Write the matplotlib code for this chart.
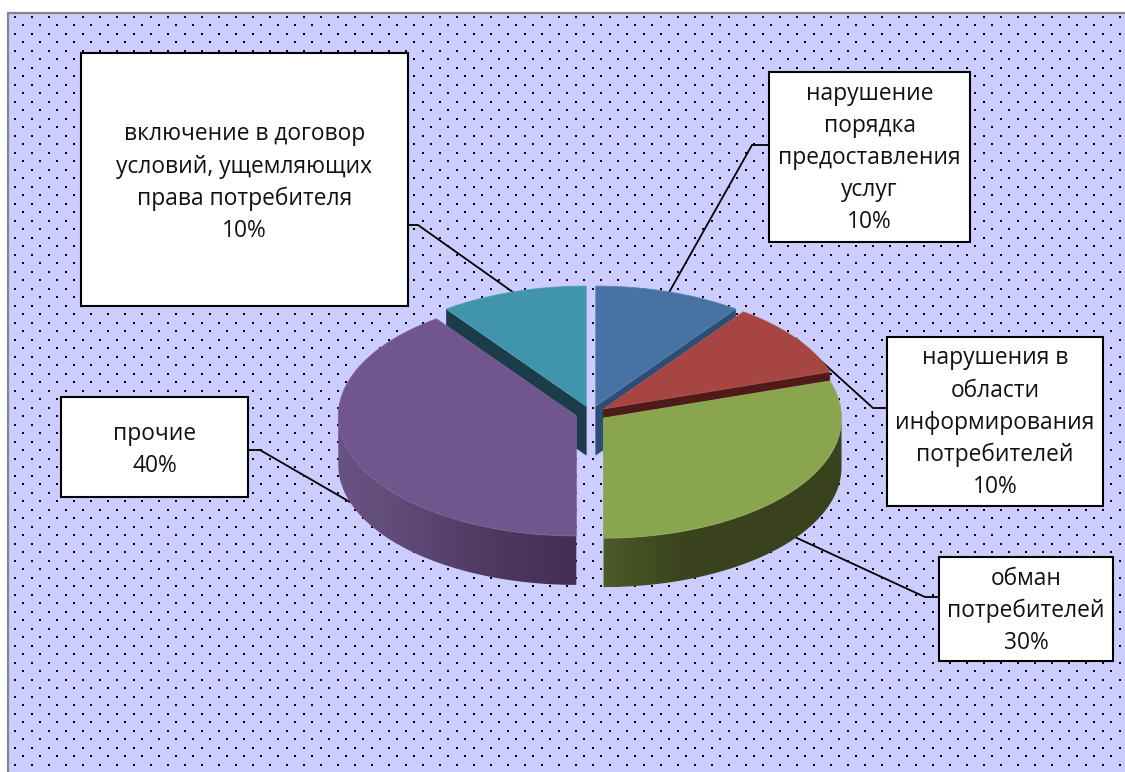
import numpy as np
import matplotlib
matplotlib.use("Agg")
import matplotlib.pyplot as plt
from matplotlib.colors import LinearSegmentedColormap
from matplotlib.patches import Polygon, Rectangle

plt.rcParams['font.family'] = ['Open Sans', 'Noto Sans', 'DejaVu Sans']

# ---- data (clockwise from 12 o'clock) ----
categories = ["нарушение\nпорядка\nпредоставления\nуслуг",
              "нарушения в\nобласти\nинформирования\nпотребителей",
              "обман\nпотребителей",
              "прочие",
              "включение в договор\nусловий, ущемляющих\nправа потребителя"]
values = [10, 10, 30, 40, 10]

# ---- styles ----
top_colors = ["#4672a4", "#a64542", "#89a54e", "#71568e", "#4095ad"]
cut_colors = ["#2c4d75", "#4e1b18", "#3a431e", "#432f55", "#1b3d4a"]
edge_colors = ["#5a83b0", "#ae5653", "#95ae60", "#7d649a", "#55a3b8"]
wall_gradients = {2: ["#4d5b29", "#3a431e", "#3a431e", "#39421d"],
                  3: ["#6a5382", "#5d4875", "#4d3860", "#432f55"]}
wall_ranges = {2: (603, 842), 3: (338, 578)}
cut_edges = {0: "end", 1: "end", 4: "start"}
draw_order = [4, 0, 1, 3, 2]

# ---- layout (pixels) ----
W, H = 1125, 772
CX, CY, RX, RY, DEPTH, EXPLODE = 591, 413.5, 238, 120, 49, 0.065
boxes = [(769, 72, 970, 242), (887, 337, 1103, 506), (939, 557, 1113, 661),
         (61, 397, 248, 497), (81, 53, 408, 306)]
text_y = [93.5, 358.5, 579, 434, 134.5]
LINE_STEP = 32.2
elbows = [((769, 145), (752, 145)), ((887, 408), (873, 408)), ((939, 597), (925, 597)),
          ((248, 450), (260, 450)), ((408, 225), (418, 225))]

fig = plt.figure(figsize=(W / 100, H / 100), dpi=100, facecolor="white")
ax = fig.add_axes([0, 0, 1, 1])
ax.axis("off")

# background and dot pattern
ax.add_patch(Rectangle((7.5, 12.5), W, H, fc="#ccccff", ec="#868686", lw=1.6, zorder=0))
for r in range(90):
    xs = np.arange(14.7 + (r % 2) * 8.5, W, 17)
    ax.scatter(xs, np.full_like(xs, 16.7 + 8.5 * r), s=3.6, c="black", marker="s", lw=0, zorder=1)

# slice angles from the values
shares = np.array(values) / sum(values) * 360
starts = 90 - np.concatenate([[0], np.cumsum(shares)[:-1]])
ends = starts - shares
mids = (starts + ends) / 2


def rim(angle, apex):
    t = np.radians(angle)
    return np.column_stack([apex[0] + RX * np.cos(t), apex[1] - RY * np.sin(t)])


apexes = []
for m in mids:
    t = np.radians(m)
    apexes.append((CX + EXPLODE * RX * np.cos(t), CY - EXPLODE * RY * np.sin(t)))

for i in draw_order:
    apex = apexes[i]
    arc = rim(np.linspace(starts[i], ends[i], 200), apex)
    # outer wall, lower half only
    if i in wall_gradients:
        low = np.linspace(min(starts[i], 0), max(ends[i], -180), 200)
        upper = rim(low, apex)
        lower = upper + [0, DEPTH]
        wall = Polygon(np.vstack([upper, lower[::-1]]), closed=True, fc="none", ec="none", zorder=5)
        ax.add_patch(wall)
        cmap = LinearSegmentedColormap.from_list("w", wall_gradients[i])
        x0, x1 = wall_ranges[i]
        im = ax.imshow(np.linspace(0, 1, 256).reshape(1, -1), cmap=cmap, aspect="auto",
                       extent=(x0, x1, 600, 380), zorder=5, interpolation="bilinear")
        im.set_clip_path(wall)
    # cut wall along the slice's visible straight edge
    if i in cut_edges:
        edge_angle = ends[i] if cut_edges[i] == "end" else starts[i]
        p = rim([edge_angle], apex)[0]
        cut = [p, apex, (apex[0], apex[1] + DEPTH), (p[0], p[1] + DEPTH)]
        ax.add_patch(Polygon(cut, closed=True, fc=cut_colors[i], ec=cut_colors[i], lw=0.4, zorder=5))
    # top face
    ax.add_patch(Polygon(np.vstack([[apex], arc]), closed=True, fc=top_colors[i],
                         ec=edge_colors[i], lw=0.6, zorder=5))

# leader lines, boxes, labels
for i, name in enumerate(categories):
    t = np.radians(mids[i])
    anchor = rim([mids[i]], apexes[i])[0]
    if np.sin(t) < 0:
        anchor = anchor + [0, DEPTH]
    (bx, by), (ex, ey) = elbows[i]
    ax.plot([bx, ex, anchor[0]], [by, ey, anchor[1]], color="black", lw=1.3, zorder=3,
            solid_joinstyle="miter")
    x0, y0, x1, y1 = boxes[i]
    ax.add_patch(Rectangle((x0, y0), x1 - x0, y1 - y0, fc="white", ec="black", lw=1.5, zorder=6))
    lines = name.split("\n") + [f"{values[i]}%"]
    for k, s in enumerate(lines):
        ax.text((x0 + x1) / 2, text_y[i] + LINE_STEP * k, s, ha="center", va="center",
                fontsize=16.4, color="#111111", zorder=7)

ax.set_xlim(0, W)
ax.set_ylim(H, 0)
fig.savefig("out.png", dpi=100, facecolor="white")
